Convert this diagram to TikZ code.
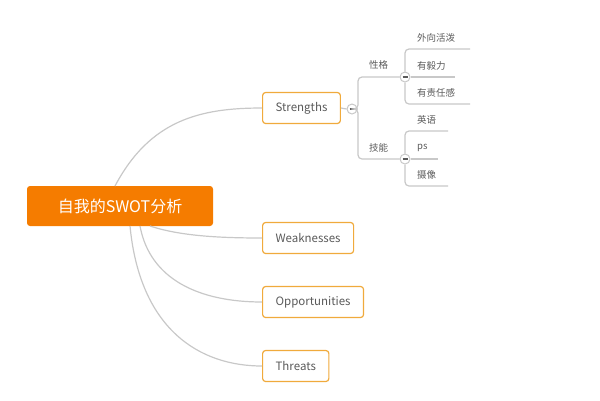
\documentclass[tikz,border=0pt]{standalone}
\usepackage{fontspec}
\setmainfont{Noto Sans CJK SC}
\definecolor{rootorange}{RGB}{245, 124, 0}
\definecolor{boxorange}{RGB}{240, 170, 60}
\definecolor{linegray}{RGB}{200, 200, 200}
\definecolor{textgray}{RGB}{90, 90, 90}
\begin{document}
\begin{tikzpicture}[x=1pt, y=-1pt,
        root/.style={rectangle, rounded corners=3pt, fill=rootorange, text=white, minimum width=186pt, minimum height=40pt, font=\fontsize{16}{19}\selectfont},
        topic/.style={rectangle, rounded corners=3pt, draw=boxorange, line width=1.2pt, fill=white, text=textgray, minimum height=31pt, inner xsep=13pt, font=\fontsize{11.5}{13}\selectfont},
        leaf/.style={anchor=west, text=textgray, inner sep=1pt, font=\fontsize{9.5}{11}\selectfont},
        branch/.style={draw=linegray, line width=1.2pt},
        fold/.style={circle, draw=linegray, fill=white, line width=1pt, inner sep=0pt, minimum size=10pt,
            path picture={\draw[textgray, line width=1.2pt] ([xshift=-2.5pt]path picture bounding box.center) -- ([xshift=2.5pt]path picture bounding box.center);}}
    ]
    \useasboundingbox (0,0) rectangle (600,400);

    % Root and topics
    \node[root] (root) at (120, 206) {自我的SWOT分析};
    \node[topic, anchor=west] (str) at (262, 108) {Strengths};
    \node[topic, anchor=west] (weak) at (262, 238) {Weaknesses};
    \node[topic, anchor=west] (opp) at (262, 302) {Opportunities};
    \node[topic, anchor=west] (thr) at (262, 366) {Threats};

    % Curves from root
    \draw[branch] (115, 186) .. controls (150, 120) and (200, 108) .. (str.west);
    \draw[branch] (150, 226) .. controls (180, 236) and (220, 238) .. (weak.west);
    \draw[branch] (140, 226) .. controls (150, 280) and (200, 302) .. (opp.west);
    \draw[branch] (130, 226) .. controls (140, 330) and (200, 366) .. (thr.west);

    % Strengths sub-branches
    \node[fold] (fs) at (352, 109) {};
    \draw[branch] (str.east) -- (fs.west);
    \node[leaf] (xg) at (368, 65) {性格};
    \node[leaf] (jn) at (368, 148) {技能};
    \node[fold] (fx) at (405, 77) {};
    \node[fold] (fj) at (405, 159) {};
    \draw[branch, rounded corners=4pt] (fs.east) -| (358, 77) -- (fx.west);
    \draw[branch, rounded corners=4pt] (fs.east) -| (358, 159) -- (fj.west);

    % Personality
    \node[leaf] (l1) at (416, 38) {外向活泼};
    \node[leaf] (l2) at (416, 66) {有毅力};
    \node[leaf] (l3) at (416, 93) {有责任感};
    \draw[branch, rounded corners=4pt] (fx.north) |- (470, 49);
    \draw[branch] (fx.east) -- (455, 77);
    \draw[branch, rounded corners=4pt] (fx.south) |- (470, 104);

    % Skills
    \node[leaf] (k1) at (416, 120) {英语};
    \node[leaf] (k2) at (416, 148) {ps};
    \node[leaf] (k3) at (416, 175) {摄像};
    \draw[branch, rounded corners=4pt] (fj.north) |- (448, 131);
    \draw[branch] (fj.east) -- (438, 159);
    \draw[branch, rounded corners=4pt] (fj.south) |- (448, 186);
\end{tikzpicture}
\end{document}
